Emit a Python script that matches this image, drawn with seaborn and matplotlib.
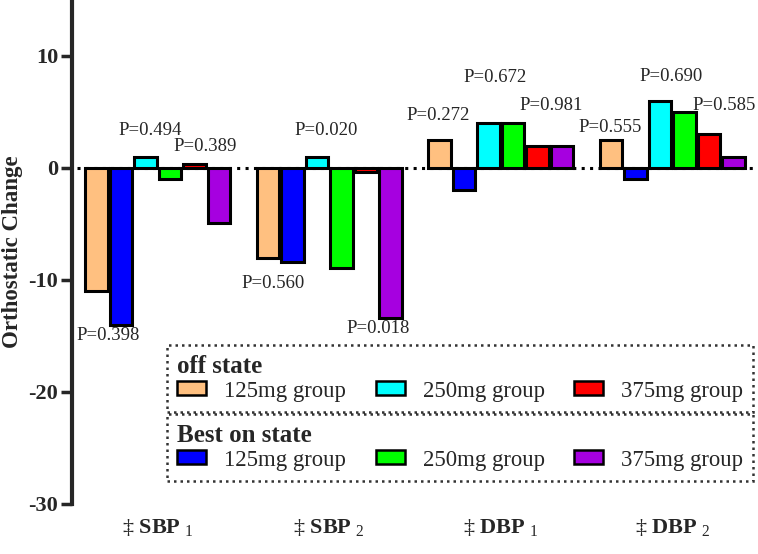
import numpy as np
import pandas as pd
import seaborn as sns
import matplotlib.pyplot as plt
import matplotlib.transforms as mtransforms
from matplotlib.patches import Patch

# data
measures = ['SBP1', 'SBP2', 'DBP1', 'DBP2']
tick_labels = [r'‡ $\mathbf{SBP}_{\ 1}$', r'‡ $\mathbf{SBP}_{\ 2}$',
               r'‡ $\mathbf{DBP}_{\ 1}$', r'‡ $\mathbf{DBP}_{\ 2}$']
series = ['off 125mg', 'on 125mg', 'off 250mg', 'on 250mg', 'off 375mg', 'on 375mg']
off_125 = [-11, -8, 2.5, 2.5]
on_125 = [-14, -8.4, -2, -1]
off_250 = [1, 1, 4, 6]
on_250 = [-1, -8.9, 4, 5]
off_375 = [0.4, -0.4, 2, 3]
on_375 = [-4.9, -13.4, 2, 1]
colors = ['#FFC080', '#0000FF', '#00FFFF', '#00FF00', '#FF0000', '#A600E0']

p_labels = ['P=0.398', 'P=0.494', 'P=0.389', 'P=0.020', 'P=0.560', 'P=0.018',
            'P=0.272', 'P=0.672', 'P=0.981', 'P=0.555', 'P=0.690', 'P=0.585']
p_pos = [(-0.289, -15.0), (-0.044, 3.39), (0.277, 1.875), (0.983, 3.39),
         (0.673, -10.27), (1.286, -14.3), (1.636, 4.73), (1.968, 8.04),
         (2.294, 5.54), (2.638, 3.66), (2.994, 8.21), (3.30, 5.54)]

values = [off_125, on_125, off_250, on_250, off_375, on_375]
rows = []
for s, vals in zip(series, values):
    for m, v in zip(measures, vals):
        rows.append({'measure': m, 'series': s, 'value': v})
df = pd.DataFrame(rows)

sns.set_style('white')
plt.rcParams['font.family'] = ['Liberation Serif', 'DejaVu Serif']
plt.rcParams['mathtext.fontset'] = 'custom'
plt.rcParams['mathtext.rm'] = 'Liberation Serif'
plt.rcParams['mathtext.bf'] = 'Liberation Serif:bold'
plt.rcParams['axes.unicode_minus'] = False

fig = plt.figure(figsize=(7.58, 5.54), dpi=100)
ax = fig.add_axes([0.095, 0.0903, 0.905, 0.9097])

sns.barplot(data=df, x='measure', y='value', hue='series', hue_order=series,
            order=measures, palette=colors, saturation=1, edgecolor='black',
            linewidth=2.2, width=0.857, gap=0.1, errorbar=None, legend=False, ax=ax)

ax.axhline(0, color='black', lw=2.2, ls=(0, (1, 1.75)), xmin=0.008, zorder=0)

ax.set_xlim(-0.5, 3.5)
ax.set_ylim(-30, 15)
ax.set_yticks([-30, -20, -10, 0, 10])
ax.set_xticks(range(4))
ax.set_xticklabels(tick_labels, fontsize=16)
ax.set_xlabel('')
ax.set_ylabel('Orthostatic Change', fontsize=16.5, fontweight='bold')
ax.yaxis.set_label_coords(-0.071, 0.5)
for lab in ax.get_yticklabels():
    lab.set_fontweight('bold')
    lab.set_fontsize(16)

shift = mtransforms.ScaledTranslation(-8 / 100, 0, fig.dpi_scale_trans)
for lab in ax.get_xticklabels():
    lab.set_transform(lab.get_transform() + shift)

for side in ['top', 'right', 'bottom']:
    ax.spines[side].set_visible(False)
ax.spines['left'].set_linewidth(3)
ax.spines['left'].set_bounds(-30, 15)
ax.tick_params(axis='y', direction='out', length=8, width=2.5, pad=2, left=True)
ax.tick_params(axis='x', length=0, pad=10)

for txt, (px, py) in zip(p_labels, p_pos):
    ax.text(px, py, txt, fontsize=13.5, ha='center', va='center')

# two dotted legend boxes
off_handles = [Patch(facecolor=colors[i], edgecolor='black', linewidth=1.8) for i in (0, 2, 4)]
on_handles = [Patch(facecolor=colors[i], edgecolor='black', linewidth=1.8) for i in (1, 3, 5)]
group_names = ['125mg group', '250mg group', '375mg group']

for title, handles, top in [('off state', off_handles, 1 - 345 / 554),
                            ('Best on state', on_handles, 1 - 414 / 554)]:
    leg = fig.legend(handles, group_names, title=title, ncol=3, loc='upper left',
                     bbox_to_anchor=(167 / 758, top),
                     fontsize=16.4, title_fontproperties={'weight': 'bold', 'size': 18},
                     alignment='left', frameon=True, fancybox=False,
                     handlelength=1.27, handleheight=0.57, handletextpad=0.79,
                     columnspacing=1.3, borderpad=0.45, labelspacing=0.1,
                     borderaxespad=0)
    fr = leg.get_frame()
    fr.set_edgecolor('black')
    fr.set_linestyle((0, (1, 1.6)))
    fr.set_linewidth(1.8)

fig.savefig('out.png', dpi=100)
